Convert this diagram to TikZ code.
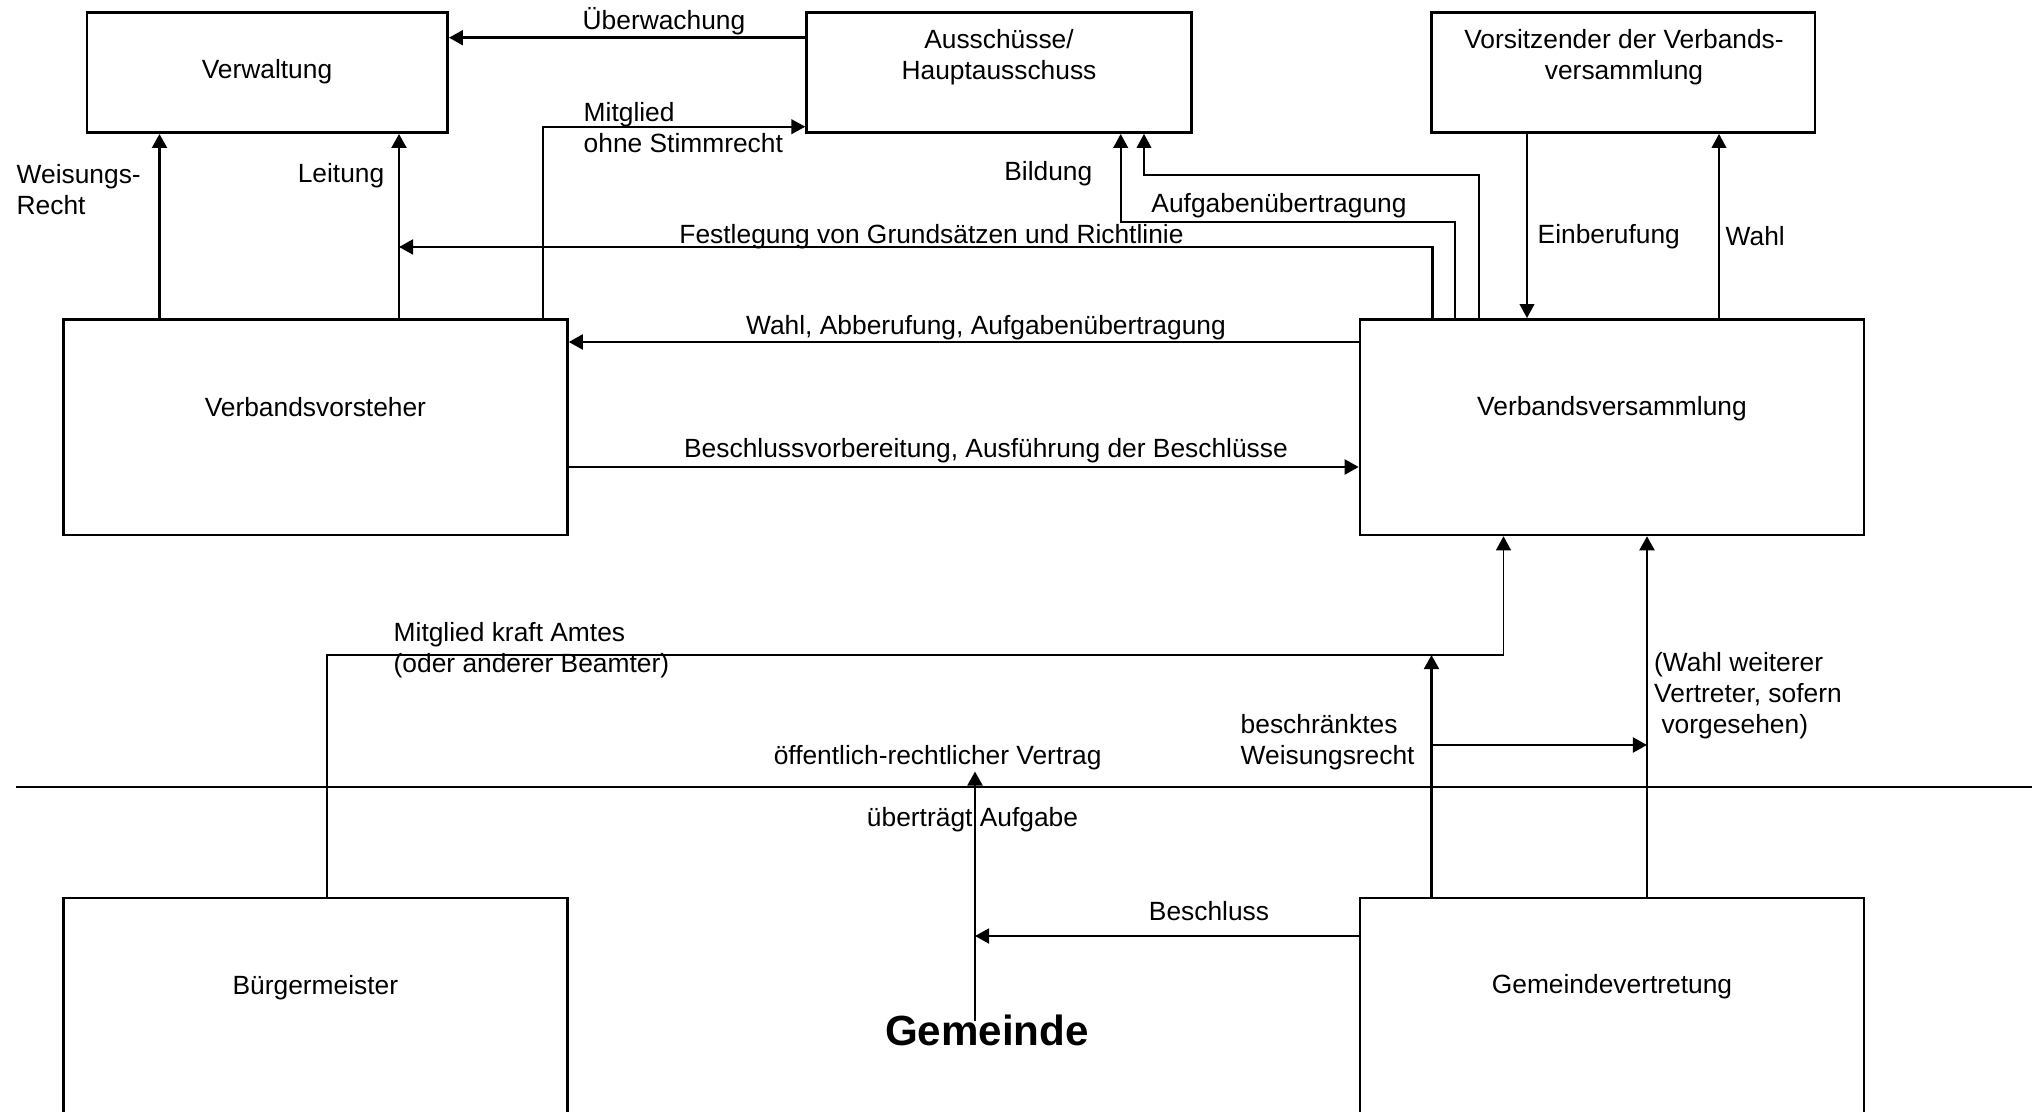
\documentclass[tikz,border=0pt]{standalone}
\usepackage{fontspec}
\setmainfont{Liberation Sans}
\usetikzlibrary{arrows.meta}
\tikzset{
  box/.style={draw,line width=0.7pt,inner sep=0pt},
  txt/.style={inner sep=0pt,align=center},
  lft/.style={inner sep=0pt,align=left,anchor=west},
  thk/.style={line width=0.8pt},
  thn/.style={line width=0.5pt}
}

\begin{document}
\begin{tikzpicture}[x=1cm,y=-1cm,font=\fontsize{7.5}{8.8}\selectfont,>={Triangle[length=4pt,width=4.2pt]}]
\useasboundingbox (0,0) rectangle (20.4,11.12);
\clip (0,0) rectangle (20.4,11.12);
% columns and rows of the connectors
\coordinate (xWeis) at (1.595,0); \coordinate (xLeit) at (3.99,0); \coordinate (xOhne) at (5.43,0);
\coordinate (xBildA) at (11.207,0); \coordinate (xAufgA) at (11.44,0);
\coordinate (xFest) at (14.325,0); \coordinate (xBildB) at (14.55,0); \coordinate (xAufgB) at (14.79,0);
\coordinate (xEinb) at (15.27,0); \coordinate (xWahl) at (17.19,0);
\coordinate (xAmtA) at (3.27,0); \coordinate (xAmtB) at (15.035,0);
\coordinate (xBeschr) at (14.315,0); \coordinate (xWeit) at (16.47,0); \coordinate (xVertr) at (9.75,0);
\coordinate (yUeb) at (0,0.377); \coordinate (yOhne) at (0,1.267); \coordinate (yAufg) at (0,1.75);
\coordinate (yBild) at (0,2.22); \coordinate (yFest) at (0,2.47); \coordinate (yAbb) at (0,3.42);
\coordinate (yVorb) at (0,4.67); \coordinate (yAmt) at (0,6.55); \coordinate (yBeschr) at (0,7.45);
\coordinate (yBeschl) at (0,9.36);
% boxes: Verband above, Gemeinde below
\node[box,minimum width=3.609cm,minimum height=1.2cm] (verwaltung) at (2.6725,0.727) {};
\node[box,minimum width=3.849cm,minimum height=1.2cm] (ausschuss) at (9.99,0.727) {};
\node[box,minimum width=3.833cm,minimum height=1.2cm] (vorsitz) at (16.233,0.727) {};
\node[box,minimum width=5.042cm,minimum height=2.157cm] (vorsteher) at (3.154,4.2715) {};
\node[box,minimum width=5.04cm,minimum height=2.157cm] (versammlung) at (16.12,4.2715) {};
\node[box,minimum width=5.042cm,minimum height=2.52cm] (buerger) at (3.154,10.24) {};
\node[box,minimum width=5.04cm,minimum height=2.52cm] (gemeindev) at (16.12,10.24) {};
\node[txt] (verwaltungT) at (2.67,0.717) {Verwaltung};
\node[txt] (ausschussT) at (9.99,0.57) {Ausschüsse/\\Hauptausschuss};
\node[txt] (vorsitzT) at (16.24,0.57) {Vorsitzender der Verbands-\\versammlung};
\node[txt] (vorsteherT) at (3.154,4.07) {Verbandsvorsteher};
\node[txt] (versammlungT) at (16.12,4.09) {Verbandsversammlung};
\node[txt] (buergerT) at (3.154,9.88) {Bürgermeister};
\node[txt] (gemeindevT) at (16.12,9.87) {Gemeindevertretung};
\node[txt,font=\fontsize{12}{14}\bfseries] (gemeinde) at (9.87,10.30) {Gemeinde};
% border between Verband and Gemeinde
\draw[thk] (0.16,7.87) -- (20.32,7.87);
% connectors inside the Verband
\draw[thk,->] (ausschuss.west |- yUeb) -- (verwaltung.east |- yUeb);
\draw[thk,->] (vorsteher.north -| xWeis) -- (verwaltung.south -| xWeis);
\draw[thk,->] (vorsteher.north -| xLeit) -- (verwaltung.south -| xLeit);
\draw[thn,->] (vorsteher.north -| xOhne) |- (ausschuss.west |- yOhne);
\draw[thk,->] (versammlung.north -| xFest) |- (xLeit |- yFest);
\draw[thn,->] (versammlung.north -| xBildB) |- (xBildA |- yBild) -- (ausschuss.south -| xBildA);
\draw[thn,->] (versammlung.north -| xAufgB) |- (xAufgA |- yAufg) -- (ausschuss.south -| xAufgA);
\draw[thn,->] (vorsitz.south -| xEinb) -- (versammlung.north -| xEinb);
\draw[thn,->] (versammlung.north -| xWahl) -- (vorsitz.south -| xWahl);
\draw[thk,->] (versammlung.west |- yAbb) -- (vorsteher.east |- yAbb);
\draw[thk,->] (vorsteher.east |- yVorb) -- (versammlung.west |- yVorb);
% connectors from the Gemeinde up
\draw[thn,->] (buerger.north -| xAmtA) |- (xAmtB |- yAmt) -- (versammlung.south -| xAmtB);
\draw[thk,->] (gemeindev.north -| xBeschr) -- (xBeschr |- yAmt);
\draw[thk,->] (xBeschr |- yBeschr) -- (xWeit |- yBeschr);
\draw[thk,->] (gemeindev.north -| xWeit) -- (versammlung.south -| xWeit);
\draw[thk,->] (gemeindev.west |- yBeschl) -- (xVertr |- yBeschl);
\coordinate (vertrFuss) at (9.75,10.21); \coordinate (vertrSpitze) at (9.75,7.715);
\draw[thk,->] (vertrFuss) -- (vertrSpitze);
% labels of the connectors
\node[txt] (uebL) at (6.64,0.21) {Überwachung};
\node[lft] (ohneL) at (5.83,1.28) {Mitglied\\ohne Stimmrecht};
\node[lft] (weisL) at (0.16,1.9) {Weisungs-\\Recht};
\node[txt,anchor=east] (leitL) at (3.85,1.76) {Leitung};
\node[txt] (festL) at (9.315,2.37) {Festlegung von Grundsätzen und Richtlinie};
\node[txt,anchor=east] (bildL) at (10.93,1.74) {Bildung};
\node[txt] (aufgL) at (12.79,2.06) {Aufgabenübertragung};
\node[lft] (einbL) at (15.37,2.37) {Einberufung};
\node[lft] (wahlL) at (17.25,2.36) {Wahl};
\node[txt] (abbL) at (9.86,3.28) {Wahl, Abberufung, Aufgabenübertragung};
\node[txt] (vorbL) at (9.86,4.51) {Beschlussvorbereitung, Ausführung der Beschlüsse};
\node[lft] (amtL) at (3.93,6.505) {Mitglied kraft Amtes\\(oder anderer Beamter)};
\node[lft] (beschrL) at (12.40,7.425) {beschränktes\\Weisungsrecht};
\node[lft] (weitL) at (16.535,6.96) {(Wahl weiterer\\Vertreter, sofern\\~vorgesehen)};
\node[txt] (vertrL) at (9.376,7.575) {öffentlich-rechtlicher Vertrag};
\node[txt] (uebertrL) at (9.725,8.20) {überträgt Aufgabe};
\node[txt] (beschlL) at (12.09,9.11) {Beschluss};
\end{tikzpicture}
\end{document}
